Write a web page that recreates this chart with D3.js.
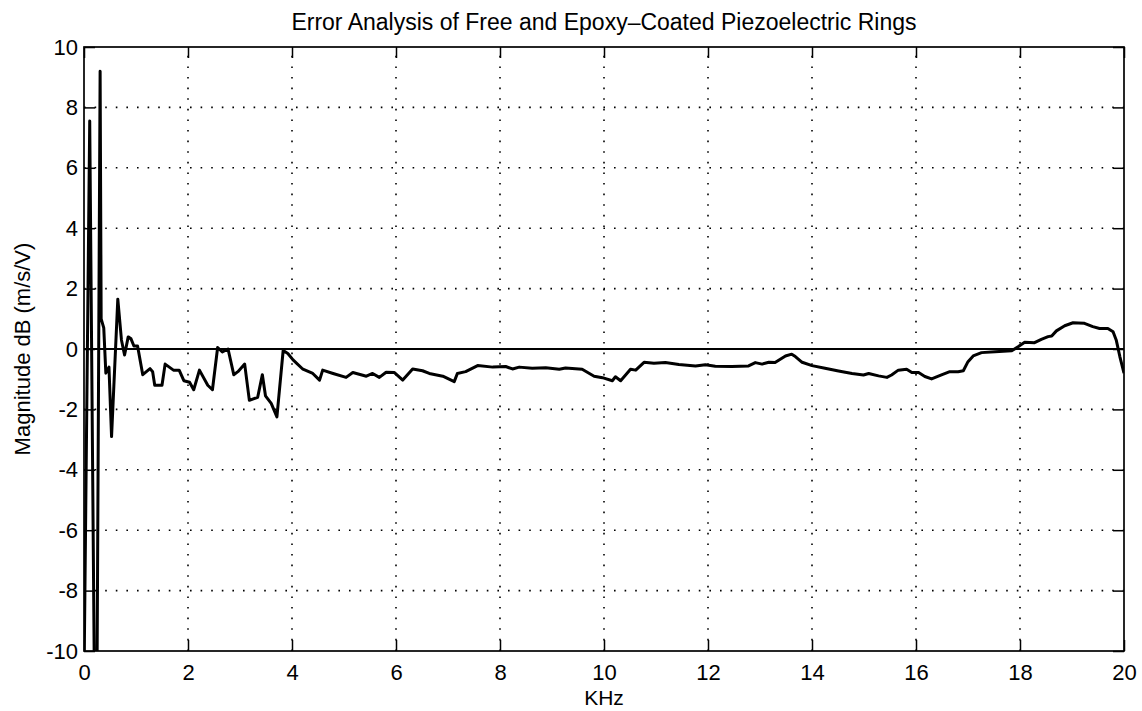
<!DOCTYPE html>
<html>
<head>
<meta charset="utf-8">
<script src="https://cdn.jsdelivr.net/npm/d3@7"></script>
<style>
  html, body { margin: 0; padding: 0; background: #fff; }
  svg text { font-family: "Liberation Sans", Arial, Helvetica, sans-serif; fill: #000; }
</style>
</head>
<body>
<svg id="chart" width="1142" height="711"></svg>
<script>
// Frequency (kHz) and magnitude error (dB) of the measured response
const freqKHz = [
  0.00, 0.11, 0.20, 0.25, 0.31, 0.33, 0.38, 0.42, 0.48, 0.53,
  0.65, 0.72, 0.78, 0.85, 0.90, 0.96, 1.03, 1.13, 1.27, 1.32,
  1.36, 1.50, 1.56, 1.72, 1.83, 1.92, 2.03, 2.11, 2.22, 2.38,
  2.47, 2.57, 2.66, 2.77, 2.88, 2.96, 3.09, 3.18, 3.34, 3.43,
  3.49, 3.60, 3.71, 3.83, 3.92, 4.02, 4.21, 4.40, 4.53, 4.59,
  4.79, 5.04, 5.17, 5.43, 5.55, 5.68, 5.81, 5.97, 6.13, 6.32,
  6.51, 6.64, 6.90, 7.12, 7.18, 7.34, 7.57, 7.86, 8.11, 8.24,
  8.37, 8.62, 8.88, 9.14, 9.26, 9.58, 9.81, 9.97, 10.16, 10.22,
  10.32, 10.51, 10.61, 10.77, 10.96, 11.18, 11.44, 11.76, 11.95, 12.14,
  12.46, 12.78, 12.91, 13.04, 13.17, 13.29, 13.49, 13.61, 13.68, 13.81,
  14.00, 14.25, 14.51, 14.77, 14.99, 15.09, 15.28, 15.44, 15.53, 15.66,
  15.82, 15.92, 16.05, 16.17, 16.30, 16.49, 16.65, 16.81, 16.91, 17.00,
  17.10, 17.26, 17.52, 17.84, 17.97, 18.09, 18.28, 18.41, 18.54, 18.61,
  18.70, 18.86, 19.02, 19.12, 19.24, 19.40, 19.53, 19.69, 19.79, 19.85,
  19.92, 20.00
];
const magnitudeDB = [
  -11, 7.55, -11, -11, 9.2, 1.0, 0.7, -0.8, -0.6, -2.9,
  1.65, 0.3, -0.2, 0.4, 0.35, 0.1, 0.1, -0.85, -0.65, -0.75,
  -1.2, -1.2, -0.5, -0.7, -0.7, -1.05, -1.1, -1.35, -0.7, -1.2,
  -1.35, 0.05, -0.1, 0.0, -0.85, -0.75, -0.5, -1.7, -1.6, -0.85,
  -1.55, -1.8, -2.25, -0.05, -0.15, -0.36, -0.67, -0.81, -1.03, -0.7,
  -0.81, -0.94, -0.78, -0.9, -0.81, -0.94, -0.77, -0.78, -1.03, -0.66,
  -0.72, -0.81, -0.9, -1.08, -0.81, -0.75, -0.55, -0.6, -0.58, -0.66,
  -0.6, -0.64, -0.62, -0.67, -0.63, -0.67, -0.9, -0.95, -1.05, -0.92,
  -1.05, -0.67, -0.7, -0.44, -0.47, -0.45, -0.51, -0.56, -0.52, -0.57,
  -0.58, -0.56, -0.45, -0.5, -0.44, -0.45, -0.23, -0.17, -0.25, -0.44,
  -0.55, -0.64, -0.73, -0.81, -0.86, -0.81, -0.89, -0.94, -0.86, -0.7,
  -0.67, -0.78, -0.78, -0.91, -0.99, -0.86, -0.75, -0.75, -0.72, -0.42,
  -0.23, -0.12, -0.09, -0.06, 0.08, 0.22, 0.21, 0.32, 0.41, 0.43,
  0.6, 0.77, 0.87, 0.86, 0.85, 0.74, 0.68, 0.68, 0.57, 0.3,
  -0.25, -0.8
];

const xTicks = [0, 2, 4, 6, 8, 10, 12, 14, 16, 18, 20];
const yTicks = [-10, -8, -6, -4, -2, 0, 2, 4, 6, 8, 10];
const titleText = "Error Analysis of Free and Epoxy\u2013Coated Piezoelectric Rings";
const xLabel = "KHz";
const yLabel = "Magnitude dB (m/s/V)";

const W = 1142, H = 711;
const margin = { top: 47, right: 18, bottom: 60, left: 84 };
const iw = W - margin.left - margin.right;
const ih = H - margin.top - margin.bottom;

const svg = d3.select("#chart");
const g = svg.append("g").attr("transform", `translate(${margin.left},${margin.top})`);

const x = d3.scaleLinear().domain([0, 20]).range([0, iw]);
const y = d3.scaleLinear().domain([-10, 10]).range([ih, 0]);

svg.append("defs").append("clipPath").attr("id", "plotClip")
  .append("rect").attr("x", 0).attr("y", 0).attr("width", iw).attr("height", ih);

// Dotted grid
const gridStyle = sel => sel.attr("stroke", "#000").attr("stroke-width", 1.6)
  .attr("stroke-dasharray", "1.6,9").attr("stroke-linecap", "butt");
g.append("g").selectAll("line").data(xTicks.filter(v => v > 0 && v < 20)).join("line")
  .attr("x1", d => x(d)).attr("x2", d => x(d)).attr("y1", ih).attr("y2", 0)
  .call(gridStyle);
g.append("g").selectAll("line").data(yTicks.filter(v => v > -10 && v < 10 && v !== 0)).join("line")
  .attr("x1", 0).attr("x2", iw).attr("y1", d => y(d)).attr("y2", d => y(d))
  .call(gridStyle);

// Zero reference
g.append("line").attr("x1", 0).attr("x2", iw).attr("y1", y(0)).attr("y2", y(0))
  .attr("stroke", "#000").attr("stroke-width", 2);

// Axes with inward ticks on all four sides
const tickLen = 11;
const bottomAxis = d3.axisBottom(x).tickValues(xTicks).tickSize(-tickLen).tickPadding(13).tickFormat(d3.format("d"));
const topAxis = d3.axisTop(x).tickValues(xTicks).tickSize(-tickLen).tickFormat("");
const leftAxis = d3.axisLeft(y).tickValues(yTicks).tickSize(-tickLen).tickPadding(6)
  .tickFormat(d => d < 0 ? "-" + Math.abs(d) : String(d));
const rightAxis = d3.axisRight(y).tickValues(yTicks).tickSize(-tickLen).tickFormat("");

const styleAxis = sel => {
  sel.select(".domain").remove();
  sel.selectAll(".tick line").attr("stroke", "#000").attr("stroke-width", 1.5);
  sel.selectAll(".tick text").attr("font-size", 22).attr("fill", "#000")
    .attr("font-family", "'Liberation Sans', Arial, sans-serif");
};
g.append("g").attr("transform", `translate(0,${ih})`).call(bottomAxis).call(styleAxis);
g.append("g").call(topAxis).call(styleAxis);
g.append("g").call(leftAxis).call(styleAxis);
g.append("g").attr("transform", `translate(${iw},0)`).call(rightAxis).call(styleAxis);

// Frame
g.append("rect").attr("x", 0).attr("y", 0).attr("width", iw).attr("height", ih)
  .attr("fill", "none").attr("stroke", "#000").attr("stroke-width", 1.7);

// Measured curve
const pts = freqKHz.map((f, i) => [f, magnitudeDB[i]]);
const line = d3.line().x(d => x(d[0])).y(d => y(d[1]));
g.append("path").datum(pts).attr("clip-path", "url(#plotClip)")
  .attr("d", line).attr("fill", "none").attr("stroke", "#000")
  .attr("stroke-width", 3).attr("stroke-linejoin", "round");

// Title and axis labels
svg.append("text").attr("x", margin.left + iw / 2).attr("y", 30)
  .attr("text-anchor", "middle").attr("font-size", 23).text(titleText);
svg.append("text").attr("x", margin.left + iw / 2).attr("y", 705)
  .attr("text-anchor", "middle").attr("font-size", 21).text(xLabel);
svg.append("text").attr("transform", `translate(30,${margin.top + ih / 2}) rotate(-90)`)
  .attr("text-anchor", "middle").attr("font-size", 22).text(yLabel);
</script>
</body>
</html>
